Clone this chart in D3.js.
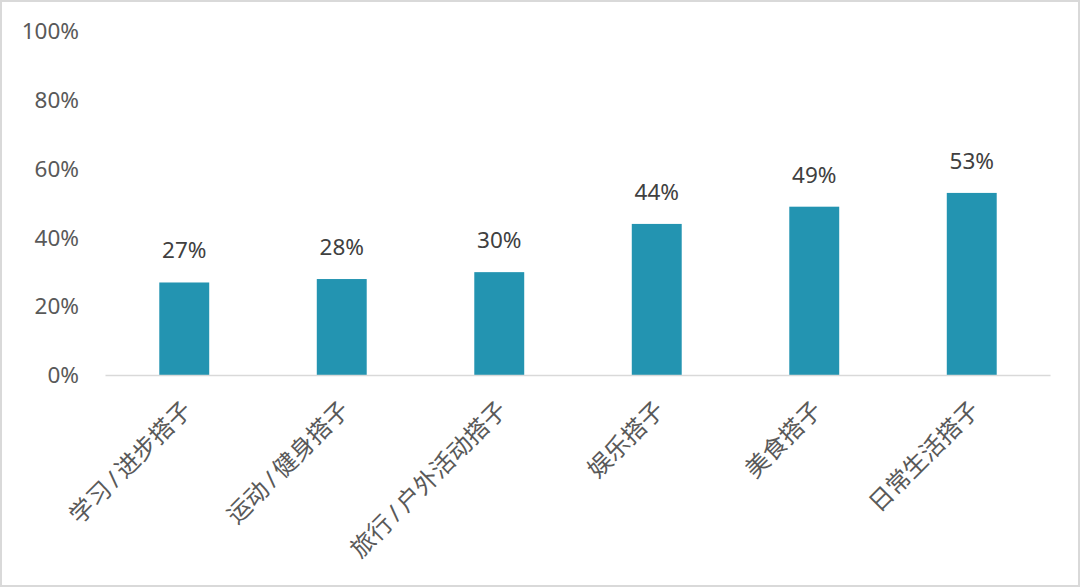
<!DOCTYPE html>
<html>
<head>
<meta charset="utf-8">
<style>
html, body { margin: 0; padding: 0; background: #fff; }
svg { display: block; font-family: "Noto Sans", "Noto Sans CJK SC", sans-serif; }
</style>
</head>
<body>
<svg width="1080" height="587"></svg>
<script src="https://d3js.org/d3.v7.min.js"></script>
<script>

var categories = ["学习/进步搭子", "运动/健身搭子", "旅行/户外活动搭子", "娱乐搭子", "美食搭子", "日常生活搭子"];
var values = [27, 28, 30, 44, 49, 53];
var yTicks = [0, 20, 40, 60, 80, 100];

var svg = d3.select("svg"),
    width = +svg.attr("width"),
    height = +svg.attr("height");

// outer frame
svg.append("rect")
    .attr("x", 1).attr("y", 1)
    .attr("width", width - 2).attr("height", height - 2)
    .attr("fill", "#fff")
    .attr("stroke", "#d9d9d9")
    .attr("stroke-width", 2);

var x = d3.scaleBand()
    .domain(categories)
    .range([105.5, 1050.5])
    .padding(0);

var y = d3.scaleLinear()
    .domain([0, 100])
    .range([375.5, 31]);

var barW = x.bandwidth() * 0.317;

// y tick labels
svg.append("g")
  .selectAll("text")
  .data(yTicks)
  .enter().append("text")
    .attr("x", 79)
    .attr("y", function(d) { return y(d); })
    .attr("dy", "0.35em")
    .attr("text-anchor", "end")
    .attr("fill", "#595959")
    .style("font-size", "22.5px")
    .text(function(d) { return d + "%"; });

// bars
svg.append("g")
  .selectAll("rect")
  .data(values)
  .enter().append("rect")
    .attr("x", function(d, i) { return x(categories[i]) + x.bandwidth() / 2 - barW / 2; })
    .attr("y", function(d) { return y(d); })
    .attr("width", barW)
    .attr("height", function(d) { return y(0) - y(d); })
    .attr("fill", "#2394b1");

// baseline
svg.append("line")
    .attr("x1", x.range()[0]).attr("x2", x.range()[1])
    .attr("y1", y(0)).attr("y2", y(0))
    .attr("stroke", "#d9d9d9")
    .attr("stroke-width", 1.5);

// value labels
svg.append("g")
  .selectAll("text")
  .data(values)
  .enter().append("text")
    .attr("x", function(d, i) { return x(categories[i]) + x.bandwidth() / 2; })
    .attr("y", function(d) { return y(d) - 24; })
    .attr("text-anchor", "middle")
    .attr("fill", "#404040")
    .style("font-size", "22.5px")
    .text(function(d) { return d + "%"; });

// category labels, rotated; slash gets a bit of room like the original
var catLabel = svg.append("g")
  .selectAll("text")
  .data(categories)
  .enter().append("text")
    .attr("transform", function(d) {
      return "translate(" + (x(d) + x.bandwidth() / 2 + 9) + "," + (y(0) + 36) + ") rotate(-45)";
    })
    .attr("text-anchor", "end")
    .attr("fill", "#595959")
    .style("font-size", "24px");

catLabel.selectAll("tspan")
  .data(function(d) { return d.split(/(\/)/); })
  .enter().append("tspan")
    .attr("dx", function(d, i) { return i > 0 ? 4 : 0; })
    .text(function(d) { return d; });

</script>
</body>
</html>
